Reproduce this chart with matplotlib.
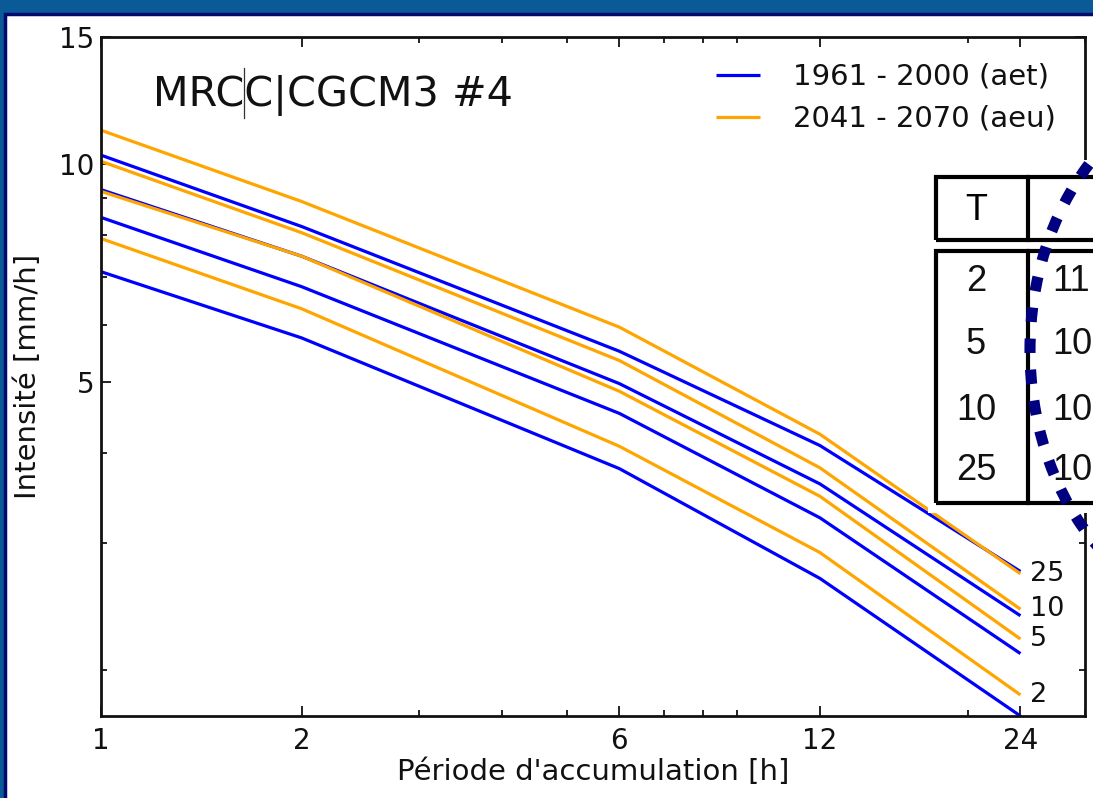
import matplotlib
matplotlib.use("Agg")
import matplotlib.pyplot as plt
from matplotlib.patches import Rectangle, Ellipse
from matplotlib.lines import Line2D
from matplotlib.ticker import FixedLocator, FixedFormatter, NullFormatter, LogLocator

# ---------------- data ----------------
durations = [1, 2, 6, 12, 24]          # Période d'accumulation [h]
return_periods = ["2", "5", "10", "25"]

# 1961 - 2000 (aet)  -- blue
aet_T2 = [7.11, 5.76, 3.80, 2.68, 1.73]
aet_T5 = [8.45, 6.78, 4.53, 3.25, 2.11]
aet_T10 = [9.23, 7.47, 4.98, 3.62, 2.38]
aet_T25 = [10.30, 8.21, 5.52, 4.09, 2.74]

# 2041 - 2070 (aeu)  -- orange
aeu_T2 = [7.90, 6.32, 4.08, 2.91, 1.85]
aeu_T5 = [9.18, 7.47, 4.86, 3.48, 2.21]
aeu_T10 = [10.10, 8.05, 5.36, 3.81, 2.43]
aeu_T25 = [11.15, 8.89, 5.96, 4.24, 2.72]

x_ticks = [1, 2, 6, 12, 24]
x_ticklabels = ["1", "2", "6", "12", "24"]
y_ticks = [5, 10, 15]
y_ticklabels = ["5", "10", "15"]

table_T = ["2", "5", "10", "25"]
table_col2 = ["11", "10", "10", "10"]

legend_labels = ["1961 - 2000 (aet)", "2041 - 2070 (aeu)"]
title_text = "MRCC|CGCM3 #4"

BLUE = "#0000ff"
ORANGE = "#ffa500"

W, H = 1093, 798
fig = plt.figure(figsize=(W / 100, H / 100), dpi=100)
fig.patch.set_facecolor("#0b5a98")

def fx(px):
    return px / W

def fy(py):
    return 1 - py / H

# slide white area with navy border
fig.patches.append(Rectangle((fx(5), fy(H + 5)), fx(W + 10) - fx(5), fy(14) - fy(H + 5),
                             transform=fig.transFigure, facecolor="white",
                             edgecolor="#000a6e", linewidth=2.5, zorder=-5))

ax = fig.add_axes([fx(101), fy(716), fx(1085) - fx(101), fy(37) - fy(716)])
ax.set_zorder(1)
ax.patch.set_facecolor("white")
ax.set_xscale("log")
ax.set_yscale("log")

aet = [aet_T2, aet_T5, aet_T10, aet_T25]
aeu = [aeu_T2, aeu_T5, aeu_T10, aeu_T25]
lw = 2.3
for i, s in enumerate(aet):
    ax.plot(durations, s, color=BLUE, lw=lw, label=legend_labels[0] if i == 0 else None,
            solid_capstyle="butt")
for i, s in enumerate(aeu):
    ax.plot(durations, s, color=ORANGE, lw=lw, label=legend_labels[1] if i == 0 else None,
            solid_capstyle="butt")

for lab, s in zip(return_periods, aeu):
    ax.annotate(lab, xy=(durations[-1], s[-1]), xytext=(7, 0), textcoords="offset points",
                ha="left", va="center", fontsize=19.5, color="#111111")

ax.set_xlim(1, 30)
ax.set_ylim(1.73, 15)

ax.xaxis.set_major_locator(FixedLocator(x_ticks))
ax.xaxis.set_major_formatter(FixedFormatter(x_ticklabels))
ax.xaxis.set_minor_locator(LogLocator(base=10, subs=range(2, 10)))
ax.xaxis.set_minor_formatter(NullFormatter())
ax.yaxis.set_major_locator(FixedLocator(y_ticks))
ax.yaxis.set_major_formatter(FixedFormatter(y_ticklabels))
ax.yaxis.set_minor_locator(LogLocator(base=10, subs=range(2, 10)))
ax.yaxis.set_minor_formatter(NullFormatter())

ax.tick_params(which="both", direction="in", top=True, right=True, width=1.3, color="#111111")
ax.tick_params(which="major", length=7.5, labelsize=20, labelcolor="#111111")
ax.tick_params(axis="x", which="major", pad=8)
ax.tick_params(axis="y", which="major", pad=5)
ax.tick_params(which="minor", length=4)
for sp in ax.spines.values():
    sp.set_linewidth(2.0)
    sp.set_color("#111111")

ax.set_xlabel("Période d'accumulation [h]", fontsize=21, color="#111111")
ax.set_ylabel("Intensité [mm/h]", fontsize=21, color="#111111")
ax.xaxis.set_label_coords(0.5, -0.062)
ax.yaxis.set_label_coords(-0.060, 0.5)

leg = ax.legend(loc="upper right", bbox_to_anchor=(fx(1056), fy(63)), bbox_transform=fig.transFigure,
                frameon=False, fontsize=21, handlelength=1.5, handletextpad=1.15,
                labelspacing=0.47, borderaxespad=0, borderpad=0)
for t in leg.get_texts():
    t.set_color("#111111")

# title text inside the axes
TITLE_FS = 29.8
title = ax.text(fx(153), fy(106), title_text, fontsize=TITLE_FS, color="#111111",
                ha="left", va="baseline", transform=fig.transFigure)
renderer = fig.canvas.get_renderer()
probe = fig.text(fx(153), fy(106), title_text[:3], fontsize=TITLE_FS, ha="left", va="baseline")
bb = probe.get_window_extent(renderer)
probe.remove()
xbar = bb.x1 / W
ax.add_line(Line2D([xbar, xbar], [fy(118), fy(68)], transform=fig.transFigure,
                   color="#333333", lw=0.9, zorder=5))

# ---------------- overlay table ----------------
fig.patches.append(Rectangle((fx(928), fy(513)), fx(W + 5) - fx(928), fy(160) - fy(513),
                             transform=fig.transFigure, facecolor="white", edgecolor="none",
                             zorder=6))
fig.patches.append(Rectangle((fx(936), fy(240)), fx(W + 20) - fx(936), fy(177) - fy(240),
                             transform=fig.transFigure, facecolor="none", edgecolor="black",
                             linewidth=3, zorder=7))
fig.patches.append(Rectangle((fx(936), fy(503)), fx(W + 20) - fx(936), fy(251) - fy(503),
                             transform=fig.transFigure, facecolor="none", edgecolor="black",
                             linewidth=3, zorder=7))
fig.lines.append(Line2D([fx(1028), fx(1028)], [fy(177), fy(240)], transform=fig.transFigure,
                        color="black", lw=3, zorder=7))
fig.lines.append(Line2D([fx(1028), fx(1028)], [fy(251), fy(503)], transform=fig.transFigure,
                        color="black", lw=3, zorder=7))
fig.text(fx(976), fy(210), "T", fontsize=26, family="Liberation Sans", ha="center", va="center",
         color="black", zorder=8)
row_y = [282, 345, 410, 471]
for lab, v, yy in zip(table_T, table_col2, row_y):
    fig.text(fx(976), fy(yy), lab, fontsize=26, family="Liberation Sans", ha="center",
             va="center", color="#111111", zorder=8)
    fig.text(fx(1052), fy(yy), v, fontsize=26, family="Liberation Sans", ha="left",
             va="center", color="#111111", zorder=8)

# dotted ellipse highlight
ell = Ellipse((fx(1232), fy(350)), fx(404), fy(0) - fy(526), transform=fig.transFigure,
              facecolor="none", edgecolor="#000080", linewidth=8,
              linestyle=(0, (1.3, 1.5)), zorder=9)
fig.patches.append(ell)

fig.savefig("out.png", dpi=100, facecolor=fig.get_facecolor())
